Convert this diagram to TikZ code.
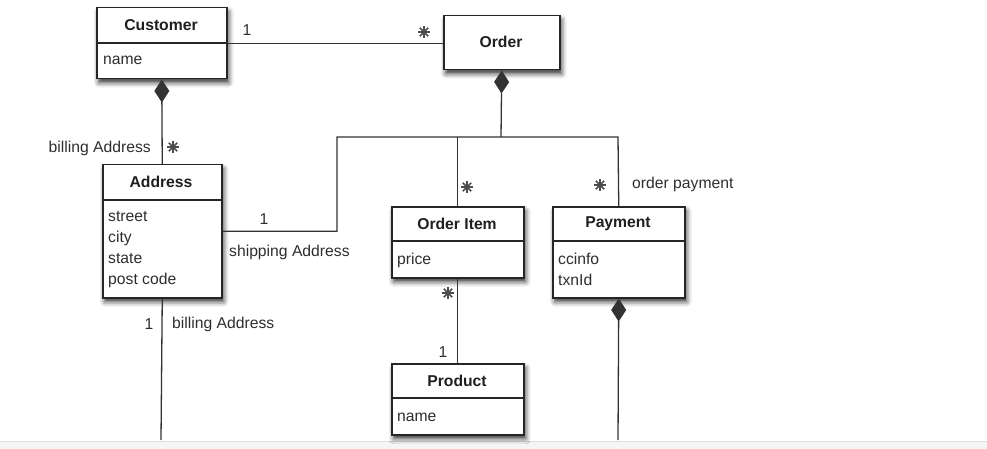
\documentclass[tikz,border=0pt]{standalone}
\usepackage{fontspec}
\setmainfont{Liberation Sans}
\usetikzlibrary{arrows.meta,shadows.blur}
\begin{document}
\begin{tikzpicture}[x=1pt,y=-1pt,
  font=\fontsize{15.7}{18}\selectfont,
  classbox/.style={draw=black!85, line width=1.5pt, fill=white, anchor=north west, inner sep=0pt,
    blur shadow={shadow xshift=2pt, shadow yshift=-4pt, shadow blur radius=5pt, shadow opacity=80}},
  divider/.style={draw=black!85, line width=1.3pt},
  ctitle/.style={font=\fontsize{15.7}{18}\selectfont\bfseries, text=black!88, inner sep=0pt},
  attr/.style={anchor=west, text=black!82, inner sep=0pt},
  lbl/.style={text=black!82, inner sep=0pt},
  mult/.style={minimum size=13pt, inner sep=0pt,
    path picture={\foreach \a in {0,45,90,135}
      \draw[line width=1.6pt, black!70] (path picture bounding box.center) +(\a:6pt) -- +(\a+180:6pt);}},
  conn/.style={draw=black!80, line width=1.3pt},
  comp/.style={conn, {Diamond[length=23pt,width=15pt]}-}
]
\useasboundingbox (0,0) rectangle (987,449);
\fill[black!4] (0,442) rectangle (987,449);
\draw[black!12, line width=0.8pt] (0,441.5) -- (987,441.5);

% classes
\node[classbox, minimum width=130pt, minimum height=71pt] (cust) at (96,7) {};
\draw[divider] ([yshift=-36pt]cust.north west) -- ([yshift=-36pt]cust.north east);
\node[ctitle] (custT) at (161,25) {Customer};
\node[attr] (custA) at (103,60) {name};

\node[classbox, minimum width=116pt, minimum height=54pt] (order) at (443,15) {};
\node[ctitle] (orderT) at (501,42) {Order};

\node[classbox, minimum width=119pt, minimum height=133pt] (addr) at (102,164) {};
\draw[divider] ([yshift=-36pt]addr.north west) -- ([yshift=-36pt]addr.north east);
\node[ctitle] (addrT) at (161,182) {Address};
\node[attr] (a1) at (108,217) {street};
\node[attr] (a2) at (108,238) {city};
\node[attr] (a3) at (108,259) {state};
\node[attr] (a4) at (108,280) {post code};

\node[classbox, minimum width=132pt, minimum height=71pt] (item) at (391,206) {};
\draw[divider] ([yshift=-35pt]item.north west) -- ([yshift=-35pt]item.north east);
\node[ctitle] (itemT) at (457,224) {Order Item};
\node[attr] (i1) at (397,260) {price};

\node[classbox, minimum width=132pt, minimum height=91pt] (pay) at (552,206) {};
\draw[divider] ([yshift=-35pt]pay.north west) -- ([yshift=-35pt]pay.north east);
\node[ctitle] (payT) at (618,224) {Payment};
\node[attr] (p1) at (558,259) {ccinfo};
\node[attr] (p2) at (558,280) {txnId};

\node[classbox, minimum width=132pt, minimum height=71pt] (prod) at (391,363) {};
\draw[divider] ([yshift=-35pt]prod.north west) -- ([yshift=-35pt]prod.north east);
\node[ctitle] (prodT) at (457,381) {Product};
\node[attr] (pr1) at (397,417) {name};

% connectors
\coordinate (busL) at (337,137);
\coordinate (busR) at (618,137);
\coordinate (busO) at (501,137);
\coordinate (addrEnd) at (161,440);
\coordinate (payEnd) at (618,440);

\draw[conn] (cust.east) -- (cust.east -| order.west);
\draw[comp] (cust.south) -- (addr.north);
\draw[comp] (order.south) -- (busO);
\draw[conn] (addr.east) -| (busL) -- (busR) -- (pay.north);
\draw[conn] (busL -| item.north) -- (item.north);
\draw[conn] (item.south) -- (prod.north);
\draw[comp] (pay.south) -- (payEnd);
\draw[conn] (addr.south) -- (addrEnd);

% labels
\node[lbl] (m1) at (247,30) {1};
\node[mult] (m2) at (424,32) {};
\node[mult] (m3) at (173,147) {};
\node[lbl, anchor=east] (l1) at (151,148) {billing Address};
\node[lbl] (m4) at (264,219) {1};
\node[lbl, anchor=west] (l2) at (229,252) {shipping Address};
\node[mult] (m5) at (467,187) {};
\node[mult] (m6) at (600,185) {};
\node[lbl, anchor=west] (l3) at (632,184) {order payment};
\node[mult] (m7) at (448,293) {};
\node[lbl] (m8) at (443,352) {1};
\node[lbl] (m9) at (149,324) {1};
\node[lbl, anchor=west] (l4) at (172,324) {billing Address};
\end{tikzpicture}
\end{document}
